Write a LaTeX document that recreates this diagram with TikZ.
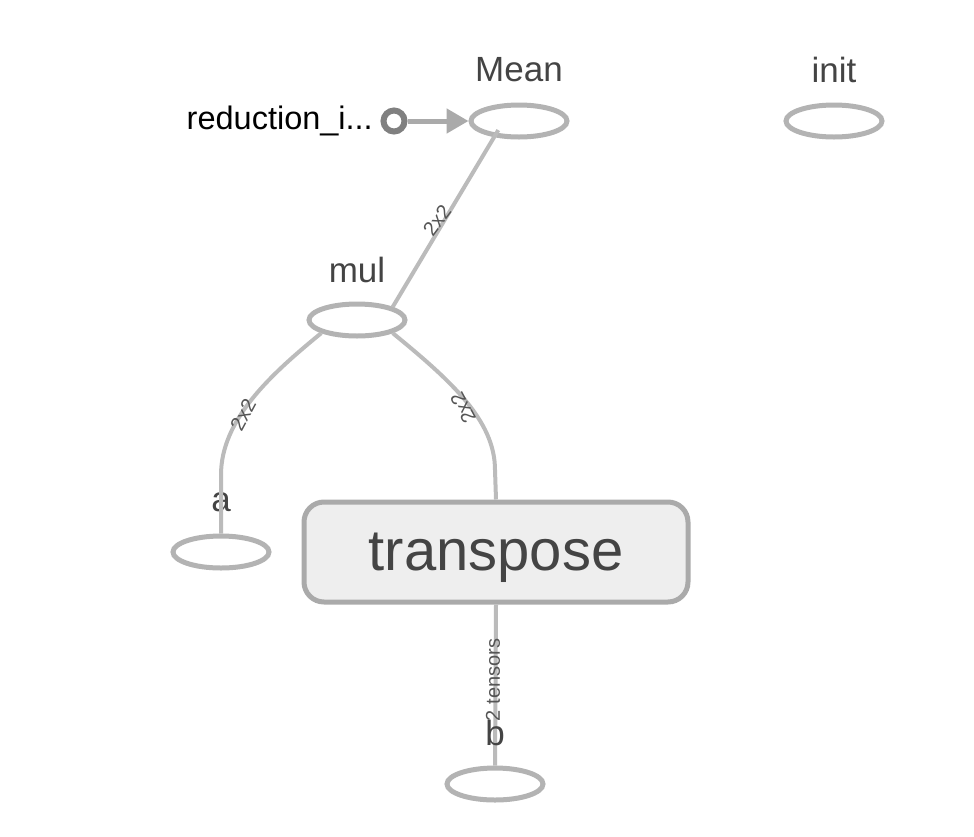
\documentclass[tikz,border=0pt]{standalone}
\usepackage{fontspec}
\setmainfont{Liberation Sans}
\usetikzlibrary{shapes.geometric,arrows.meta}
\definecolor{edgecol}{HTML}{BBBBBB}
\definecolor{nodecol}{HTML}{B3B3B3}
\definecolor{labcol}{HTML}{444444}
\definecolor{elabcol}{HTML}{555555}
\definecolor{boxfill}{HTML}{EEEEEE}
\definecolor{boxline}{HTML}{AAAAAA}
\definecolor{dotcol}{HTML}{808080}
\begin{document}
\begin{tikzpicture}[x=1pt,y=-1pt,
  opnode/.style={ellipse,draw=nodecol,line width=5pt,fill=white,minimum width=96pt,minimum height=32pt,inner sep=0pt},
  oplabel/.style={text=labcol,font=\fontsize{35}{37}\selectfont,inner sep=0pt},
  edge/.style={draw=edgecol,line width=4pt},
  elabel/.style={text=elabcol,font=\fontsize{20}{21}\selectfont,inner sep=0pt}]
\useasboundingbox (0,0) rectangle (974,836);
% nodes
\node[opnode] (mean) at (519,121) {};
\node[oplabel] (meanl) at (519,70) {Mean};
\node[opnode] (init) at (834,121) {};
\node[oplabel] (initl) at (834,70) {init};
\node[circle,draw=dotcol,line width=6pt,fill=white,minimum size=21pt,inner sep=0pt] (red) at (394,121) {};
\node[anchor=east,inner sep=0pt,font=\fontsize{32.5}{34}\selectfont] (redl) at (373,121) {reduction\_i...};
\node[opnode] (mul) at (357,320) {};
\node[oplabel] (mull) at (357,270) {mul};
\node[opnode] (a) at (221,552) {};
\node[oplabel] (al) at (221,502) {a};
\node[draw=boxline,fill=boxfill,line width=5pt,rounded corners=20pt,minimum width=384pt,minimum height=100pt,inner sep=0pt,text depth=1.5pt,text=labcol,font=\fontsize{58}{60}\selectfont] (tr) at (496,552) {transpose};
\node[opnode] (b) at (495,784) {};
% edges
\draw[edge,draw=boxline,line width=5pt,-{Triangle[length=22pt,width=24pt]}] (red.east) -- (mean.west);
\draw[edge] (mean.south west) ++(15pt,4pt) coordinate (ms) -- (mul.north east) coordinate (mn);
\draw[edge] (mul.south west) .. controls (270,375) and (221,420) .. (221,475) -- (a.north);
\draw[edge] (mul.south east) .. controls (450,380) and (495,420) .. (495,470) -- (tr.north);
\draw[edge] (tr.south) -- (b.north);
% edge labels
\node[elabel,rotate=53] (l1) at (437,220) {2x2};
\node[elabel,rotate=62] (l2) at (243,415) {2x2};
\node[elabel,rotate=118] (l3) at (463,408) {2x2};
\node[elabel,rotate=90] (l4) at (493,680) {2 tensors};
\node[oplabel] (bl) at (495,733) {b};
\end{tikzpicture}
\end{document}
